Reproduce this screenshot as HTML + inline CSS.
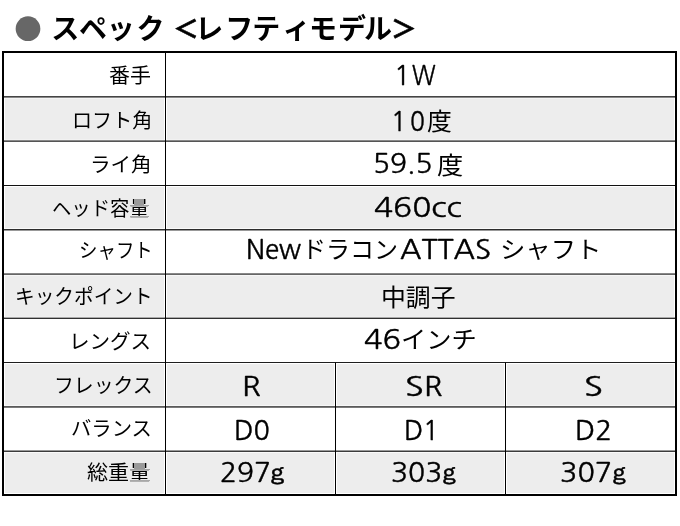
<!DOCTYPE html>
<html lang="ja"><head><meta charset="utf-8"><title>スペック</title>
<style>
html,body{margin:0;padding:0;background:#fff;}
body{position:relative;width:680px;height:526px;overflow:hidden;color:#000;font-family:"Liberation Sans","Noto Sans CJK JP",sans-serif;}
div,h1{position:absolute;white-space:nowrap;margin:0;}
.g{left:0;top:0;font-size:0;line-height:0;}
.g span{display:inline-block;position:relative;width:0;vertical-align:top;white-space:nowrap;}
.tt{top:7.0px;line-height:40px;font-family:"Noto Sans CJK JP",sans-serif;font-weight:bold;font-size:28px;line-height:40px;color:#000;}
.l{font-family:"Noto Sans CJK JP",sans-serif;font-weight:400;font-size:20px;line-height:30px;transform-origin:0 0;color:#000;}
.a{font-family:"NanumGothic","Liberation Sans",sans-serif;font-size:26px;line-height:30px;transform-origin:0 0;color:#000;}
.j{font-family:"Noto Sans CJK JP",sans-serif;font-size:24px;line-height:30px;transform-origin:0 0;color:#000;}
</style></head><body>
<svg width="680" height="526" viewBox="0 0 680 526" style="position:absolute;left:0;top:0"><rect x="5" y="98.40" width="159" height="41.29" fill="#ededed"/><rect x="167" y="98.40" width="507" height="41.29" fill="#ededed"/><rect x="5" y="186.98" width="159" height="41.29" fill="#ededed"/><rect x="167" y="186.98" width="507" height="41.29" fill="#ededed"/><rect x="5" y="275.56" width="159" height="41.29" fill="#ededed"/><rect x="167" y="275.56" width="507" height="41.29" fill="#ededed"/><rect x="5" y="364.14" width="159" height="41.29" fill="#ededed"/><rect x="167" y="364.14" width="167" height="41.29" fill="#ededed"/><rect x="337" y="364.14" width="167" height="41.29" fill="#ededed"/><rect x="507" y="364.14" width="167" height="41.29" fill="#ededed"/><rect x="5" y="452.72" width="159" height="40.28" fill="#ededed"/><rect x="167" y="452.72" width="167" height="40.28" fill="#ededed"/><rect x="337" y="452.72" width="167" height="40.28" fill="#ededed"/><rect x="507" y="452.72" width="167" height="40.28" fill="#ededed"/><rect x="4" y="96" width="671" height="1" fill="rgb(68,68,68)" shape-rendering="crispEdges"/><rect x="4" y="97" width="671" height="1" fill="rgb(136,136,136)" shape-rendering="crispEdges"/><rect x="4" y="140" width="671" height="1" fill="rgb(136,136,136)" shape-rendering="crispEdges"/><rect x="4" y="141" width="671" height="1" fill="rgb(85,85,85)" shape-rendering="crispEdges"/><rect x="4" y="185" width="671" height="1" fill="rgb(17,17,17)" shape-rendering="crispEdges"/><rect x="4" y="229" width="671" height="1" fill="rgb(44,44,44)" shape-rendering="crispEdges"/><rect x="4" y="230" width="671" height="1" fill="rgb(153,153,153)" shape-rendering="crispEdges"/><rect x="4" y="273" width="671" height="1" fill="rgb(136,136,136)" shape-rendering="crispEdges"/><rect x="4" y="274" width="671" height="1" fill="rgb(102,102,102)" shape-rendering="crispEdges"/><rect x="4" y="317" width="671" height="1" fill="rgb(170,170,170)" shape-rendering="crispEdges"/><rect x="4" y="318" width="671" height="1" fill="rgb(48,48,48)" shape-rendering="crispEdges"/><rect x="4" y="362" width="671" height="1" fill="rgb(30,30,30)" shape-rendering="crispEdges"/><rect x="4" y="406" width="671" height="1" fill="rgb(90,90,90)" shape-rendering="crispEdges"/><rect x="4" y="407" width="671" height="1" fill="rgb(122,122,122)" shape-rendering="crispEdges"/><rect x="4" y="450" width="671" height="1" fill="rgb(153,153,153)" shape-rendering="crispEdges"/><rect x="4" y="451" width="671" height="1" fill="rgb(60,60,60)" shape-rendering="crispEdges"/><line x1="165.5" x2="165.5" y1="52" y2="495.00" stroke="#000" stroke-width="1"/><line x1="335.5" x2="335.5" y1="362.64" y2="495.00" stroke="#000" stroke-width="1"/><line x1="505.5" x2="505.5" y1="362.64" y2="495.00" stroke="#000" stroke-width="1"/><rect x="3" y="52" width="673" height="443" fill="none" stroke="#000" stroke-width="2"/><circle cx="28.0" cy="28.65" r="12.35" fill="#676767"/></svg>
<h1 class="g"><span class="tt" style="margin-left:51.20px;">ス</span><span class="tt" style="margin-left:27.80px;">ペ</span><span class="tt" style="margin-left:27.80px;">ッ</span><span class="tt" style="margin-left:29.60px;">ク</span> <span class="tt" style="margin-left:36.20px;-webkit-text-stroke:0.7px #000;transform:scale(0.92,0.88);transform-origin:0 21px;">＜</span><span class="tt" style="margin-left:22.60px;">レ</span><span class="tt" style="margin-left:30.00px;">フ</span><span class="tt" style="margin-left:27.20px;">テ</span><span class="tt" style="margin-left:30.20px;">ィ</span><span class="tt" style="margin-left:26.40px;">モ</span><span class="tt" style="margin-left:29.00px;">デ</span><span class="tt" style="margin-left:26.00px;">ル</span><span class="tt" style="margin-left:27.00px;-webkit-text-stroke:0.7px #000;transform:scale(0.92,0.88);transform-origin:0 21px;">＞</span></h1>
<div class="g"><span class="l" style="margin-left:108.53px;top:59.75px;transform:scaleX(1.05);">番手</span></div><div class="g"><span class="l" style="margin-left:72.13px;top:104.80px;transform:scaleX(1.005);">ロフト角</span></div><div class="g"><span class="l" style="margin-left:90.27px;top:148.60px;transform:scaleX(1.028);">ライ角</span></div><div class="g"><span class="l" style="margin-left:51.85px;top:192.90px;transform:scaleX(0.968);">ヘッド容量</span></div><div class="g"><span class="l" style="margin-left:79.05px;top:235.45px;transform:scaleX(0.922);">シャフト</span></div><div class="g"><span class="l" style="margin-left:15.11px;top:281.00px;transform:scaleX(0.983);">キックポイント</span></div><div class="g"><span class="l" style="margin-left:69.08px;top:325.80px;transform:scaleX(1.027);">レングス</span></div><div class="g"><span class="l" style="margin-left:53.57px;top:369.85px;transform:scaleX(0.993);">フレックス</span></div><div class="g"><span class="l" style="margin-left:70.84px;top:413.40px;transform:scaleX(1.017);">バランス</span></div><div class="g"><span class="l" style="margin-left:86.76px;top:457.20px;transform:scaleX(1.053);">総重量</span></div><div class="g"><span class="a" style="margin-left:394.37px;top:60.80px;transform:scaleX(1.039);-webkit-text-stroke:0.4px #000;">1</span><span class="a" style="margin-left:17.72px;top:60.80px;transform:scaleX(0.887);-webkit-text-stroke:0.4px #000;">W</span></div><div class="g"><span class="a" style="margin-left:391.15px;top:106.85px;transform:scaleX(0.977);-webkit-text-stroke:0.4px #000;">1</span><span class="a" style="margin-left:18.99px;top:106.85px;transform:scaleX(0.944);-webkit-text-stroke:0.4px #000;">0</span><span class="j" style="margin-left:17.17px;top:104.80px;transform:scaleX(1.037);">度</span></div><div class="g"><span class="a" style="margin-left:373.35px;top:149.40px;transform:scaleX(1.078);-webkit-text-stroke:0.4px #000;">59.5</span><span class="j" style="margin-left:63.38px;top:148.60px;transform:scaleX(1.095);">度</span></div><div class="g"><span class="a" style="margin-left:374.28px;top:192.95px;transform:scaleX(1.213);-webkit-text-stroke:0.4px #000;">460cc</span></div><div class="g"><span class="a" style="margin-left:245.64px;top:235.40px;transform:scaleX(1.001);-webkit-text-stroke:0.4px #000;">New</span><span class="j" style="margin-left:56.46px;top:233.20px;">ドラコン</span><span class="a" style="margin-left:97.66px;top:235.40px;transform:scaleX(1.134);-webkit-text-stroke:0.4px #000;">ATTAS</span> <span class="j" style="margin-left:100.26px;top:233.20px;transform:scaleX(1.056);">シャフト</span></div><div class="g"><span class="j" style="margin-left:381.33px;top:280.70px;transform:scaleX(1.036);">中調子</span></div><div class="g"><span class="a" style="margin-left:364.06px;top:325.10px;transform:scaleX(1.173);-webkit-text-stroke:0.4px #000;">46</span><span class="j" style="margin-left:37.12px;top:323.30px;transform:scaleX(1.053);">インチ</span></div><div class="g"><span class="a" style="margin-left:242.21px;top:371.60px;transform:scaleX(1.161);-webkit-text-stroke:0.4px #000;">R</span></div><div class="g"><span class="a" style="margin-left:405.29px;top:371.60px;transform:scaleX(1.328);-webkit-text-stroke:0.4px #000;">S</span><span class="a" style="margin-left:18.39px;top:371.60px;transform:scaleX(1.143);-webkit-text-stroke:0.4px #000;">R</span></div><div class="g"><span class="a" style="margin-left:584.40px;top:371.60px;transform:scaleX(1.341);-webkit-text-stroke:0.4px #000;">S</span></div><div class="g"><span class="a" style="margin-left:233.99px;top:415.70px;transform:scaleX(1.035);-webkit-text-stroke:0.4px #000;">D0</span></div><div class="g"><span class="a" style="margin-left:404.38px;top:415.70px;transform:scaleX(1.02);-webkit-text-stroke:0.4px #000;">D</span><span class="a" style="margin-left:19.12px;top:415.70px;transform:scaleX(1.01);-webkit-text-stroke:0.4px #000;">1</span></div><div class="g"><span class="a" style="margin-left:574.58px;top:415.70px;transform:scaleX(1.068);-webkit-text-stroke:0.4px #000;">D2</span></div><div class="g"><span class="a" style="margin-left:219.55px;top:458.00px;transform:scaleX(1.077);-webkit-text-stroke:0.4px #000;">297</span><span class="a" style="margin-left:51.92px;top:457.70px;transform:scaleX(1.168);font-family:'WenQuanYi Zen Hei',sans-serif;font-size:22px;-webkit-text-stroke:0.4px #000;">g</span></div><div class="g"><span class="a" style="margin-left:391.11px;top:458.00px;transform:scaleX(1.084);-webkit-text-stroke:0.4px #000;">303</span><span class="a" style="margin-left:52.19px;top:457.70px;transform:scaleX(1.131);font-family:'WenQuanYi Zen Hei',sans-serif;font-size:22px;-webkit-text-stroke:0.4px #000;">g</span></div><div class="g"><span class="a" style="margin-left:560.07px;top:458.00px;transform:scaleX(1.103);-webkit-text-stroke:0.4px #000;">307</span><span class="a" style="margin-left:53.16px;top:457.70px;transform:scaleX(1.131);font-family:'WenQuanYi Zen Hei',sans-serif;font-size:22px;-webkit-text-stroke:0.4px #000;">g</span></div>
<div class="ov" style="left:134px;top:199px;width:10px;height:6px;background:#9a9a9a"></div><div class="ov" style="left:130px;top:205px;width:19px;height:1px;background:#a0a0a0"></div><div class="ov" style="left:130px;top:216px;width:19px;height:1px;background:#a8a8a8"></div><div class="ov" style="left:134px;top:463px;width:11px;height:6px;background:#9a9a9a"></div><div class="ov" style="left:130px;top:469px;width:20px;height:1px;background:#a0a0a0"></div><div class="ov" style="left:130px;top:480px;width:20px;height:1px;background:#a8a8a8"></div>
</body></html>
